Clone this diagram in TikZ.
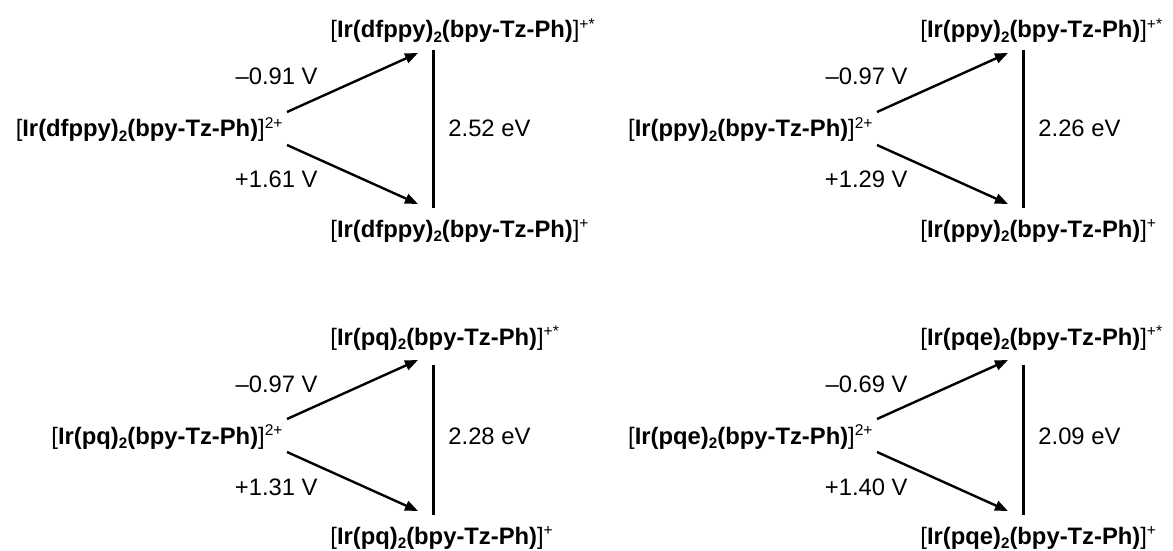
\documentclass[tikz,border=0pt]{standalone}
\usepackage{fontspec}
\setmainfont{Liberation Sans}
\usetikzlibrary{arrows.meta}
\newcommand\mysub[1]{\raisebox{-2.4pt}{\fontsize{7.6}{8}\selectfont #1}}
\newcommand\mysup[1]{\raisebox{4.3pt}{\fontsize{7.8}{8}\selectfont #1}}
\newcommand\cpx[2]{[\textbf{Ir(#1)\mysub{2}(bpy-Tz-Ph)}]\mysup{#2}}
\tikzset{
  txt/.style={inner sep=0pt, font=\fontsize{11.9}{14}\selectfont},
  redox/.style={line width=1.2pt, -{Triangle[length=6.5pt,width=5pt]}},
  gap/.style={line width=1.5pt},
}
\newcommand\panel[8]{%
\begin{scope}[shift={(#2,#3)}]
  \node[txt, anchor=base east] (#1L) at (283,137) {\cpx{#4}{2+}};
  \node[txt, anchor=base west] (#1T) at (330,38) {\cpx{#4}{+*}};
  \node[txt, anchor=base west] (#1B) at (330,237) {\cpx{#4}{+}};
  \node[txt, anchor=base east] (#1r) at (318,85) {#5};
  \node[txt, anchor=base east] (#1o) at (318,188) {#6};
  \node[txt, anchor=base west] (#1E) at (448,137) {#7};
  \coordinate (#1a) at (287,112);
  \coordinate (#1b) at (418,53);
  \coordinate (#1c) at (287,145);
  \coordinate (#1d) at (418,204);
  \coordinate (#1e) at (433,#8);
  \coordinate (#1f) at (433,208);
  \draw[redox] (#1a) -- (#1b);
  \draw[redox] (#1c) -- (#1d);
  \draw[gap] (#1e) -- (#1f);
\end{scope}}
\begin{document}
\begin{tikzpicture}[x=0.5pt,y=-0.5pt]
  \useasboundingbox[fill=white] (0,0) rectangle (1173,551);
  \panel{p1}{0}{0}{dfppy}{\textendash0.91 V}{+1.61 V}{2.52 eV}{50}
  \panel{p2}{590}{0}{ppy}{\textendash0.97 V}{+1.29 V}{2.26 eV}{50}
  \panel{p3}{0}{307}{pq}{\textendash0.97 V}{+1.31 V}{2.28 eV}{58}
  \panel{p4}{590}{307}{pqe}{\textendash0.69 V}{+1.40 V}{2.09 eV}{58}
\end{tikzpicture}
\end{document}
